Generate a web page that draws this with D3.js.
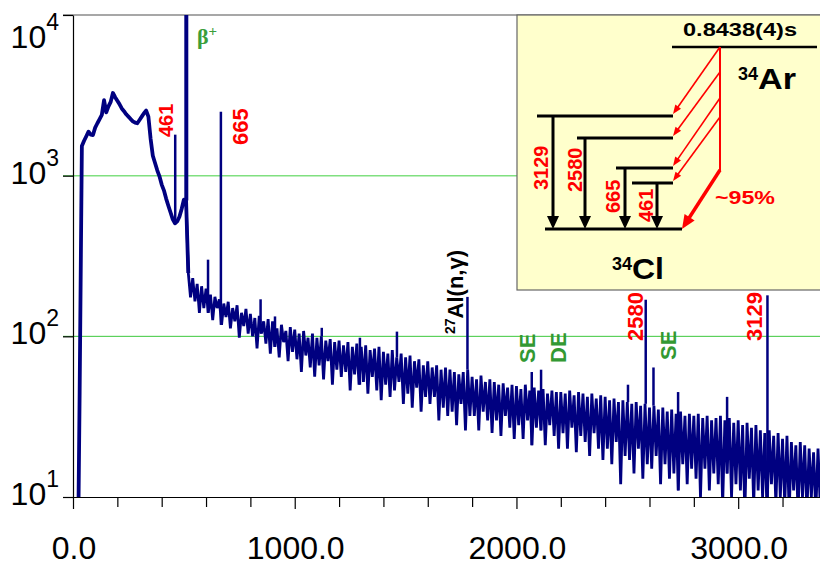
<!DOCTYPE html>
<html>
<head>
<meta charset="utf-8">
<script src="https://cdn.jsdelivr.net/npm/d3@7"></script>
<style>
  body { margin: 0; background: #fff; }
  svg { display: block; font-family: "Liberation Sans", Arial, sans-serif; }
</style>
</head>
<body>
<div id="chart"></div>
<script>
// gamma spectrum, one value per 10 keV bin starting at 0 keV
const binWidth = 10;
const counts = [
    1, 1, 2, 45, 1530, 1650, 1760, 1880, 1800, 1790,
    1990, 2120, 2250, 2390, 2950, 2480, 2700, 2880, 3270, 3080,
    2930, 2780, 2620, 2520, 2410, 2330, 2250, 2180, 2140, 2120,
    2220, 2330, 2450, 2540, 2330, 1700, 1330, 1200, 1080, 990,
    880, 810, 720, 650, 590, 535, 505, 520, 555, 620,
    710, 700, 248, 175, 230, 165, 212, 140, 205, 150,
    198, 140, 182, 126, 176, 150, 170, 118, 160, 132,
    164, 112, 150, 124, 156, 98, 140, 116, 148, 104,
    138, 100, 130, 84, 134, 104, 124, 90, 128, 78,
    124, 86, 112, 74, 118, 92, 108, 70, 114, 80,
    110, 72, 104, 60, 108, 76, 98, 64, 104, 56,
    98, 66, 100, 54, 94, 70, 96, 50, 92, 62,
    94, 56, 88, 60, 92, 46, 86, 58, 90, 50,
    86, 52, 88, 44, 82, 56, 84, 46, 86, 40,
    80, 50, 78, 42, 82, 46, 74, 52, 78, 38,
    74, 44, 76, 36, 70, 48, 72, 34, 66, 42,
    70, 38, 64, 42, 66, 30, 62, 36, 64, 32,
    62, 34, 60, 28, 58, 38, 60, 26, 62, 32,
    56, 32, 54, 26, 57, 34, 52, 30, 54, 25,
    52, 30, 50, 24, 51, 32, 48, 27, 50, 23,
    49, 28, 47, 23, 50, 30, 46, 21, 48, 27,
    46, 26, 47, 21, 44, 28, 46, 24, 45, 20,
    45, 25, 44, 20, 46, 27, 43, 19, 45, 24,
    44, 22, 42, 18, 44, 25, 41, 20, 43, 17,
    42, 20, 40, 16, 41, 22, 39, 12, 40, 18,
    39, 17, 38, 14, 39, 20, 37, 13, 38, 16,
    36, 15, 37, 18, 35, 12, 36, 16, 34, 13,
    35, 14, 33, 11, 34, 16, 32, 12, 33, 15,
    32, 13, 33, 10, 31, 15, 32, 11, 30, 14,
    31, 12, 32, 9, 30, 14, 31, 10, 29, 12,
    30, 11, 28, 8, 29, 13, 27, 9, 28, 11,
    26, 10, 25, 8, 26, 12, 24, 9, 25, 10,
    23, 9, 24, 8, 22, 11, 21, 8, 22, 10,
    21, 8, 20, 10, 19, 8, 20, 9
];

// narrow lines sitting on the continuum (keV, counts at top)
const peakEnergy = [461, 511, 609, 667, 846, 911, 1122, 1294, 1461, 1779, 2069, 2111, 2503, 2583, 2618, 2729, 2950, 3132];
const peakHeight = [1800, 30000, 300, 2500, 170, 133, 113, 98, 107, 176, 60, 62, 50, 169, 64, 45, 42, 180];

const yTicks = [10, 100, 1000, 10000];
const xLabelTicks = [0, 1000, 2000, 3000];
const xMinorStep = 200;

const width = 820, height = 565;
const margin = { top: 15, right: 0, bottom: 68, left: 73 };
const plotW = width - margin.left - margin.right;
const plotH = height - margin.top - margin.bottom;

const svg = d3.select('#chart')
    .append('svg')
    .attr('width', width)
    .attr('height', height);

const x = d3.scaleLinear().domain([0, 3369]).range([margin.left, width - margin.right]);
const y = d3.scaleLog().domain([10, 10000]).range([margin.top + plotH, margin.top]);

svg.append('clipPath').attr('id', 'plotClip')
    .append('rect')
    .attr('x', margin.left).attr('y', margin.top)
    .attr('width', plotW).attr('height', plotH);

// grid lines
const gridStyle = { 10000: ['#8a8a8a', 1.5], 1000: ['#80e080', 1.5], 100: ['#3cc83c', 1] };
yTicks.filter(v => v > 10).forEach(v => {
    svg.append('line')
        .attr('x1', margin.left - 10).attr('x2', width)
        .attr('y1', y(v)).attr('y2', y(v))
        .attr('stroke', gridStyle[v][0])
        .attr('stroke-width', gridStyle[v][1]);
});

// spectrum
const spec = counts.map((c, i) => ({ e: i * binWidth, c: c }));
const line = d3.line().x(d => x(d.e)).y(d => y(Math.max(d.c, 1)));
const plot = svg.append('g').attr('clip-path', 'url(#plotClip)');

plot.append('path')
    .datum(spec.filter(d => d.e >= 510))
    .attr('d', line)
    .attr('fill', 'none')
    .attr('stroke', '#000080')
    .attr('stroke-width', 2.8)
    .attr('stroke-linejoin', 'miter');

plot.append('path')
    .datum(spec.filter(d => d.e <= 520))
    .attr('d', line)
    .attr('fill', 'none')
    .attr('stroke', '#000080')
    .attr('stroke-width', 3.8)
    .attr('stroke-linejoin', 'round');

plot.selectAll('line.peak')
    .data(peakEnergy.map((e, i) => ({ e: e, h: peakHeight[i], base: counts[Math.round(e / binWidth)] })))
    .enter()
    .append('line')
    .attr('class', 'peak')
    .attr('x1', d => x(d.e)).attr('x2', d => x(d.e))
    .attr('y1', d => y(d.base)).attr('y2', d => y(d.h))
    .attr('stroke', '#000080')
    .attr('stroke-width', d => d.e === 511 ? 4 : 2.5);

// axes
svg.append('g')
    .attr('transform', `translate(${margin.left},0)`)
    .call(d3.axisLeft(y).tickValues(yTicks).tickFormat('').tickSize(10).tickSizeOuter(0))
    .call(g => g.selectAll('path, line').attr('stroke', '#000').attr('stroke-width', 1.2));

svg.append('g')
    .attr('transform', `translate(0,${margin.top + plotH})`)
    .call(d3.axisBottom(x).tickValues(d3.range(0, 3369, xMinorStep)).tickFormat('').tickSize(10).tickSizeOuter(0))
    .call(g => g.selectAll('path, line').attr('stroke', '#000').attr('stroke-width', 1.2))
    .call(g => g.selectAll('.tick line').filter(d => d % 1000 === 0).attr('y2', 12));

yTicks.forEach(v => {
    const t = svg.append('text')
        .attr('x', 59)
        .attr('y', Math.max(y(v) + 8, 48))
        .attr('text-anchor', 'end')
        .attr('fill', '#000');
    t.append('tspan').style('font-size', '32px').text('10');
    t.append('tspan').style('font-size', '23px').attr('dy', -18).text(Math.round(Math.log10(v)));
});

svg.selectAll('text.xlab')
    .data(xLabelTicks)
    .enter()
    .append('text')
    .attr('class', 'xlab')
    .attr('x', d => x(d) + 1)
    .attr('y', 559)
    .attr('text-anchor', 'middle')
    .style('font-size', '32px')
    .text(d3.format('.1f'));

// peak labels (rotated)
const red = '#ff0000', green = '#339933';
const notes = [
    { text: '461', e: 461, dx: -2, y: 137, size: 20, color: red },
    { text: '665', e: 667, dx: 27, y: 145, size: 22, color: red },
    { text: 'SE', e: 2069, dx: 3, y: 363, size: 22, color: green },
    { text: 'DE', e: 2111, dx: 25, y: 363, size: 22, color: green },
    { text: '2580', e: 2583, dx: -3, y: 341, size: 22, color: red },
    { text: 'SE', e: 2618, dx: 23, y: 360, size: 22, color: green },
    { text: '3129', e: 3132, dx: -5, y: 341, size: 22, color: red }
];
notes.forEach(n => {
    svg.append('text')
        .attr('transform', `translate(${x(n.e) + n.dx},${n.y}) rotate(-90)`)
        .attr('fill', n.color)
        .style('font-size', n.size + 'px')
        .style('font-weight', 'bold')
        .text(n.text);
});

const al = svg.append('text')
    .attr('transform', `translate(${x(1779) - 4},334) rotate(-90)`)
    .attr('fill', '#000')
    .style('font-weight', 'bold');
al.append('tspan').style('font-size', '14px').attr('dy', -8).text('27');
al.append('tspan').style('font-size', '22px').attr('dy', 8).text('Al(n,γ)');

const beta = svg.append('text')
    .attr('x', 197).attr('y', 44)
    .attr('fill', '#3a9e3a')
    .style('font-weight', 'bold')
    .style('font-family', '"Liberation Serif", "Times New Roman", serif');
beta.append('tspan').style('font-size', '22px').text('β');
beta.append('tspan').style('font-size', '15px').attr('dy', -8).text('+');

// level scheme inset
const inset = svg.append('g');
inset.append('rect')
    .attr('x', 517).attr('y', 15)
    .attr('width', 310).attr('height', 275)
    .attr('fill', '#ffffcc')
    .attr('stroke', '#666')
    .attr('stroke-width', 1.2);

function arrow(g, x1, y1, x2, y2, color, w, headLen, headW) {
    const len = Math.hypot(x2 - x1, y2 - y1);
    const ux = (x2 - x1) / len, uy = (y2 - y1) / len;
    const bx = x2 - ux * headLen, by = y2 - uy * headLen;
    g.append('line')
        .attr('x1', x1).attr('y1', y1)
        .attr('x2', bx + ux).attr('y2', by + uy)
        .attr('stroke', color).attr('stroke-width', w);
    g.append('path')
        .attr('d', `M${x2},${y2}L${bx - uy * headW / 2},${by + ux * headW / 2}L${bx + uy * headW / 2},${by - ux * headW / 2}Z`)
        .attr('fill', color);
}

const groundY = 229;
const levels = [
    { label: '3129', y: 116, x0: 537, ax: 553, lx: 548, ly: 190, from: 47 },
    { label: '2580', y: 138, x0: 577, ax: 585, lx: 582, ly: 192, from: 72 },
    { label: '665', y: 168, x0: 616, ax: 625, lx: 620, ly: 213, from: 98 },
    { label: '461', y: 183, x0: 632, ax: 657, lx: 653, ly: 222, from: 117 }
];

inset.append('line')
    .attr('x1', 545).attr('x2', 682).attr('y1', groundY).attr('y2', groundY)
    .attr('stroke', '#000').attr('stroke-width', 3);
inset.append('line')
    .attr('x1', 672).attr('x2', 817).attr('y1', 47).attr('y2', 47)
    .attr('stroke', '#000').attr('stroke-width', 2.5);
inset.append('line')
    .attr('x1', 720).attr('x2', 720).attr('y1', 47).attr('y2', 171)
    .attr('stroke', red).attr('stroke-width', 2);

levels.forEach(l => {
    inset.append('line')
        .attr('x1', l.x0).attr('x2', 673).attr('y1', l.y).attr('y2', l.y)
        .attr('stroke', '#000').attr('stroke-width', 3);
    arrow(inset, l.ax, l.y, l.ax, groundY, '#000', 3, 13, 12);
    arrow(inset, 720, l.from, 673, l.y - 2, red, 1.6, 9, 7);
    inset.append('text')
        .attr('transform', `translate(${l.lx},${l.ly}) rotate(-90)`)
        .attr('fill', red)
        .style('font-size', '20px')
        .style('font-weight', 'bold')
        .text(l.label);
});
arrow(inset, 720, 170, 682, groundY, red, 3.5, 14, 12);

inset.append('text')
    .attr('x', 683).attr('y', 36)
    .attr('textLength', 114).attr('lengthAdjust', 'spacingAndGlyphs')
    .style('font-size', '19px').style('font-weight', 'bold')
    .text('0.8438(4)s');

inset.append('text')
    .attr('x', 715).attr('y', 204)
    .attr('textLength', 60).attr('lengthAdjust', 'spacingAndGlyphs')
    .attr('fill', red)
    .style('font-size', '19px').style('font-weight', 'bold')
    .text('~95%');

function nucleus(xPos, yPos, mass, name, nameLen) {
    inset.append('text')
        .attr('x', xPos).attr('y', yPos - 9)
        .style('font-size', '18px').style('font-weight', 'bold')
        .text(mass);
    inset.append('text')
        .attr('x', xPos + 20).attr('y', yPos)
        .attr('textLength', nameLen).attr('lengthAdjust', 'spacingAndGlyphs')
        .style('font-size', '30px').style('font-weight', 'bold')
        .text(name);
}
nucleus(738, 89, '34', 'Ar', 38);
nucleus(612, 279, '34', 'Cl', 32);
</script>
</body>
</html>
